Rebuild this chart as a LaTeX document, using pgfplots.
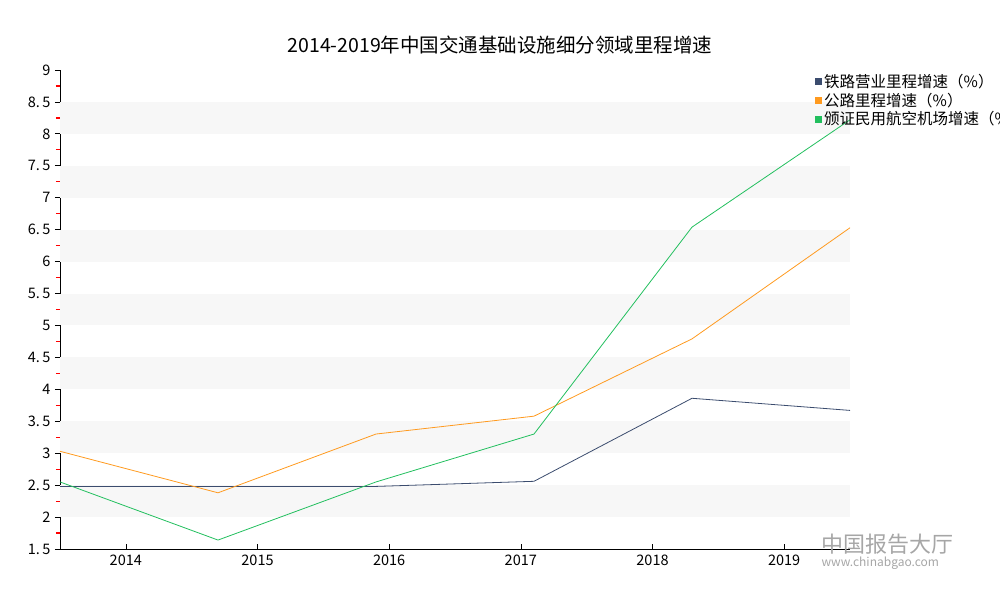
\documentclass[border=0pt]{standalone}
\usepackage{fontspec}
\setmainfont{Noto Sans CJK SC}
\usepackage{pgfplots}
\pgfplotsset{compat=1.18}
\definecolor{rail}{HTML}{3B4C6E}
\definecolor{road}{HTML}{FF9A1F}
\definecolor{air}{HTML}{22BF5E}
\definecolor{band}{HTML}{F7F7F7}
\begin{document}
\begin{tikzpicture}[x=1pt,y=1pt]
\useasboundingbox (0,0) rectangle (1000,600);
\node[font=\fontsize{19.5}{22}\selectfont, anchor=center] at (500,555) {2014-2019年中国交通基础设施细分领域里程增速};
\begin{axis}[
  at={(60pt,51pt)}, anchor=south west,
  scale only axis, width=790pt, height=479pt,
  xmin=0, xmax=5, ymin=1.5, ymax=9,
  axis x line*=bottom, axis y line*=left,
  axis line style={black, line width=0.8pt, -},
  xtick={0.41667,1.25,2.08333,2.91667,3.75,4.58333},
  xticklabels={2014,2015,2016,2017,2018,2019},
  ytick={1.5,2,2.5,3,3.5,4,4.5,5,5.5,6,6.5,7,7.5,8,8.5,9},
  yticklabels={1.\,5,2,2.\,5,3,3.\,5,4,4.\,5,5,5.\,5,6,6.\,5,7,7.\,5,8,8.\,5,9},
  minor y tick num=1,
  tick label style={font=\fontsize{14.5}{16}\selectfont, black},
  /pgf/number format/assume math mode=true,
  x tick style={black, line width=0.6pt},
  xtick align=inside, major tick length=5pt,
  y tick style={black, line width=0.8pt},
  ytick align=outside,
  minor y tick style={red, line width=1.2pt},
  minor tick length=4pt,
  xticklabel style={yshift=-2pt},
  yticklabel style={xshift=-1pt},
  legend style={at={(axis description cs:0.956,0.996)}, anchor=north west, draw=none, fill=none,
    font=\fontsize{15.5}{17}\selectfont, row sep=0pt, inner sep=0pt,
    /tikz/every even column/.append style={column sep=2pt}},
  legend cell align=left,
  legend image code/.code={\fill (0pt,-3pt) rectangle (6pt,3pt);},
  clip=false,
]
\foreach \b in {2,3,4,5,6,7,8} {
  \edef\tmp{\noexpand\fill[band] (axis cs:0,\b) rectangle (axis cs:5,\b+0.5);}
  \tmp
}
\addplot[rail, line width=0.8pt] coordinates {(0,2.48) (1,2.48) (2,2.48) (3,2.56) (4,3.86) (5,3.67)};
\addlegendentry{铁路营业里程增速（\%）}
\addplot[road, line width=0.8pt] coordinates {(0,3.03) (1,2.38) (2,3.30) (3,3.58) (4,4.79) (5,6.53)};
\addlegendentry{公路里程增速（\%）}
\addplot[air, line width=0.8pt] coordinates {(0,2.55) (1,1.64) (2,2.55) (3,3.30) (4,6.54) (5,8.22)};
\addlegendentry{颁证民用航空机场增速（\%）}
\end{axis}
\node[anchor=west, text=gray!70, font=\fontsize{22}{24}\selectfont] at (818,56) {中国报告大厅};
\node[anchor=west, text=gray!70, font=\fontsize{12}{14}\selectfont] at (818,37) {www.chinabgao.com};
\end{tikzpicture}
\end{document}
